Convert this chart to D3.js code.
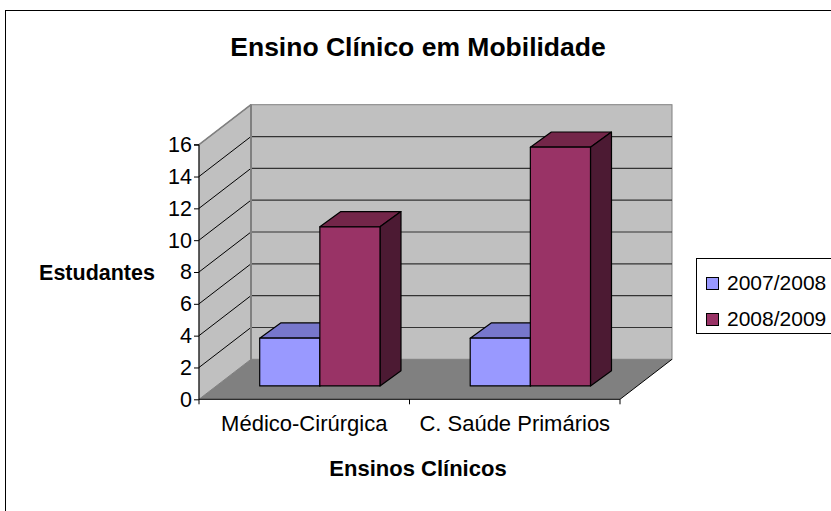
<!DOCTYPE html>
<html><head><meta charset="utf-8">
<script src="https://cdnjs.cloudflare.com/ajax/libs/d3/7.8.5/d3.min.js"></script>
<style>
html,body{margin:0;padding:0;background:#fff;}
text{font-family:"Liberation Sans",Arial,sans-serif;}
</style></head>
<body>
<svg id="chart" width="831" height="511"></svg>
<script>
const title = "Ensino Clínico em Mobilidade";
const categories = ["Médico-Cirúrgica", "C. Saúde Primários"];
const seriesNames = ["2007/2008", "2008/2009"];
const series2007 = [3, 3];
const series2008 = [10, 15];
const yTicks = [0, 2, 4, 6, 8, 10, 12, 14, 16];
const yTitle = "Estudantes";
const xTitle = "Ensinos Clínicos";

const colors = [
  {front:"#9999FF", top:"#7777CC", side:"#5C5CA8"},
  {front:"#993366", top:"#732649", side:"#4C1A33"}
];
const values = [series2007, series2008];

const svg = d3.select("#chart");
// outer chart border
svg.append("rect").attr("x",5.5).attr("y",10.5).attr("width",900).attr("height",600)
  .attr("fill","#fff").attr("stroke","#000").attr("stroke-width",1);

const x0 = 199, x1 = 620;
const y = d3.scaleLinear().domain([0,16]).range([399.3,144.7]);
const depth = {dx:52, dy:40};
const xBand = d3.scaleBand().domain(categories).range([x0,x1]).paddingInner(0).paddingOuter(0);
const barW = xBand.bandwidth()/3.5;
const xSeries = d3.scaleBand().domain(seriesNames).range([0.75*barW, 2.75*barW]);
const front = {dx:15.6, dy:13.4}, back = {dx:36.6, dy:28.6};

const g = svg.append("g");
const yMax = y(16), yMin = y(0);
// side wall
g.append("path").attr("d", d3.line()([[x0,yMin],[x0,yMax],[x0+depth.dx,yMax-depth.dy],[x0+depth.dx,yMin-depth.dy]])+"Z")
  .attr("fill","#C0C0C0").attr("stroke","#808080");
// back wall
g.append("rect").attr("x",x0+depth.dx).attr("y",yMax-depth.dy).attr("width",x1-x0).attr("height",yMin-yMax)
  .attr("fill","#C0C0C0").attr("stroke","#808080");
// floor
g.append("path").attr("d", d3.line()([[x0,yMin],[x1,yMin],[x1+depth.dx,yMin-depth.dy],[x0+depth.dx,yMin-depth.dy]])+"Z")
  .attr("fill","#808080").attr("stroke","none");
g.append("line").attr("x1",x1).attr("y1",yMin).attr("x2",x1+depth.dx).attr("y2",yMin-depth.dy)
  .attr("stroke","#000").attr("stroke-width",1);
// gridlines
yTicks.filter(v=>v>0 && v<16).forEach(v=>{
  g.append("line").attr("x1",x0).attr("y1",y(v)).attr("x2",x0+depth.dx).attr("y2",y(v)-depth.dy)
    .attr("stroke","#000").attr("stroke-width",1);
  g.append("line").attr("x1",x0+depth.dx).attr("y1",y(v)-depth.dy).attr("x2",x1+depth.dx).attr("y2",y(v)-depth.dy)
    .attr("stroke","#333").attr("stroke-width",1.2);
});
// back wall left edge (gray, thicker)
g.append("line").attr("x1",x0+depth.dx).attr("y1",yMax-depth.dy).attr("x2",x0+depth.dx).attr("y2",yMin-depth.dy)
  .attr("stroke","#808080").attr("stroke-width",2);
g.append("line").attr("x1",x0).attr("y1",yMax).attr("x2",x0+depth.dx).attr("y2",yMax-depth.dy)
  .attr("stroke","#808080").attr("stroke-width",1.5);

// bars
categories.forEach((c,ci)=>{
  seriesNames.forEach((s,si)=>{
    const v = values[si][ci];
    const xl = xBand(c)+xSeries(s), xr = xl+xSeries.bandwidth();
    const yt = y(v), yb = y(0);
    const col = colors[si];
    const bg = g.append("g").attr("stroke","#000").attr("stroke-width",1.2).attr("stroke-linejoin","round");
    bg.append("path").attr("d", d3.line()([[xl+front.dx,yt-front.dy],[xr+front.dx,yt-front.dy],[xr+back.dx,yt-back.dy],[xl+back.dx,yt-back.dy]])+"Z")
      .attr("fill",col.top);
    bg.append("path").attr("d", d3.line()([[xr+front.dx,yt-front.dy],[xr+back.dx,yt-back.dy],[xr+back.dx,yb-back.dy],[xr+front.dx,yb-front.dy]])+"Z")
      .attr("fill",col.side);
    bg.append("rect").attr("x",xl+front.dx).attr("y",yt-front.dy).attr("width",xr-xl).attr("height",yb-yt)
      .attr("fill",col.front);
  });
});

// y axis
const yAxis = d3.axisLeft(y).tickValues(yTicks).tickSize(5).tickPadding(2).tickFormat(d3.format("d"));
const ya = svg.append("g").attr("transform",`translate(${x0},0)`).call(yAxis);
ya.select(".domain").attr("d",`M-5,${yMax}H0V${yMin+5}`).attr("stroke","#000");
ya.selectAll("line").attr("stroke","#000");
ya.selectAll("text").attr("font-size","21.5px").attr("fill","#000")
  .style("font-family","'Liberation Sans',Arial,sans-serif");

// x axis
const xa = svg.append("g").attr("transform",`translate(0,${yMin})`).call(d3.axisBottom(xBand).tickSize(0).tickPadding(16));
xa.select(".domain").attr("d",`M${x0},0H${x1}`).attr("stroke","#000");
xa.selectAll("text").attr("font-size","22px").attr("fill","#000")
  .style("font-family","'Liberation Sans',Arial,sans-serif");
[xBand(categories[1]), x1].forEach(xv=>{
  xa.append("line").attr("x1",xv).attr("x2",xv).attr("y1",0).attr("y2",5).attr("stroke","#000");
});

// titles
svg.append("text").attr("x",418).attr("y",56).attr("text-anchor","middle")
  .attr("font-size","26.5px").attr("font-weight","bold").text(title);
svg.append("text").attr("x",97).attr("y",280).attr("text-anchor","middle")
  .attr("font-size","21.5px").attr("font-weight","bold").text(yTitle);
svg.append("text").attr("x",418).attr("y",476).attr("text-anchor","middle")
  .attr("font-size","22px").attr("font-weight","bold").text(xTitle);

// legend
const lg = svg.append("g");
lg.append("rect").attr("x",696.5).attr("y",258.5).attr("width",200).attr("height",75)
  .attr("fill","#fff").attr("stroke","#000");
seriesNames.forEach((s,i)=>{
  const yy = 277 + i*36;
  lg.append("rect").attr("x",706.5).attr("y",yy+0.5).attr("width",12).attr("height",12)
    .attr("fill",colors[i].front).attr("stroke","#000");
  lg.append("text").attr("x",727).attr("y",yy+12.5).attr("font-size","21px").text(s);
});
</script>
</body></html>
